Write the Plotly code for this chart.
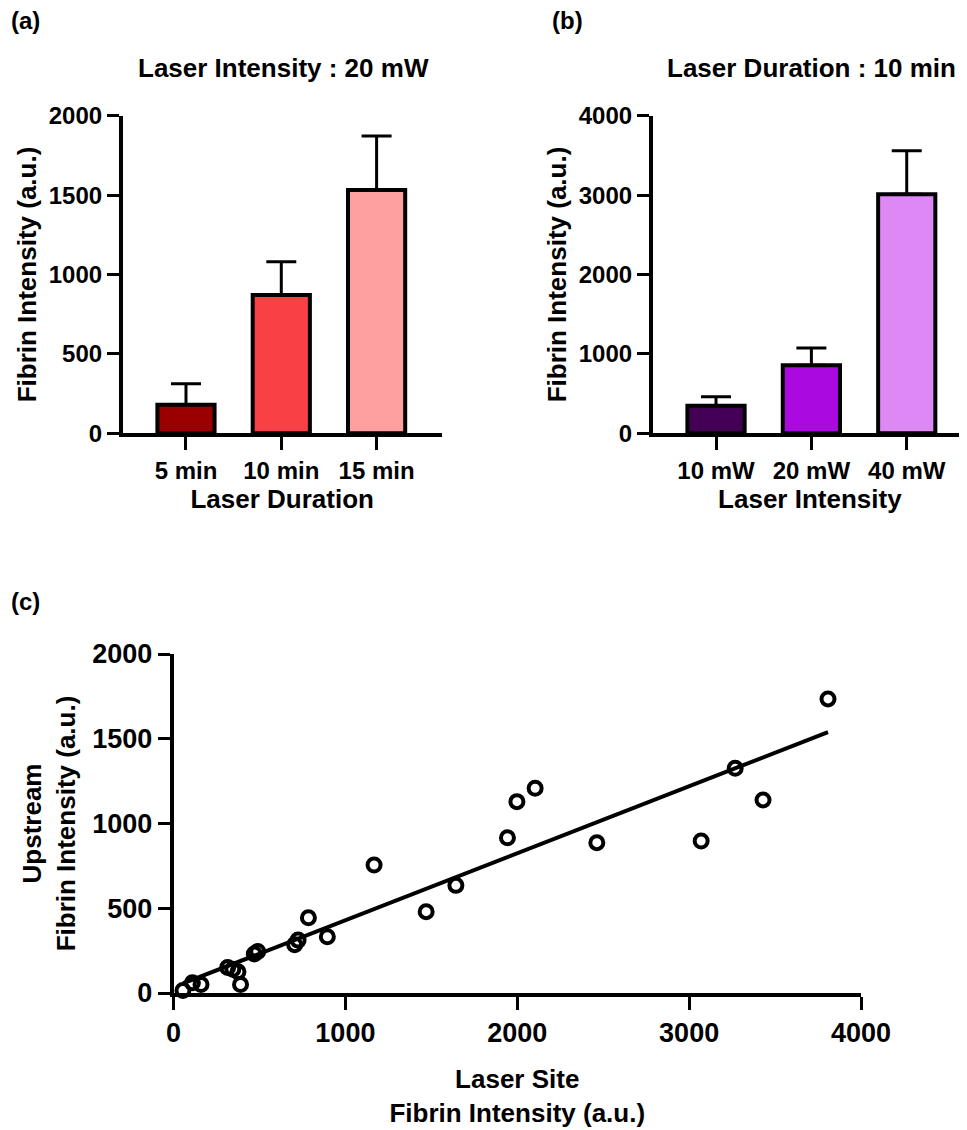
import numpy as np
import plotly.graph_objects as go

# ---------------- data ----------------
duration_labels = ["5 min", "10 min", "15 min"]
duration_mean = [180, 871, 1532]
duration_err = [132, 210, 340]
duration_colors = ["#9B0000", "#F94044", "#FFA0A0"]

intensity_labels = ["10 mW", "20 mW", "40 mW"]
intensity_mean = [348, 856, 3010]
intensity_err = [113, 218, 549]
intensity_colors = ["#440055", "#AA0ADF", "#DD88F5"]

site_fibrin = [55, 110, 160, 315, 345, 375, 390, 470, 490, 705, 725, 785, 895,
               1167, 1470, 1643, 1943, 1998, 2104, 2463, 3070, 3268, 3430, 3808]
upstream_fibrin = [15, 60, 50, 150, 140, 125, 50, 230, 245, 285, 312, 444, 332,
                   755, 480, 635, 916, 1129, 1208, 887, 897, 1326, 1139, 1735]

yticks_a = [0, 500, 1000, 1500, 2000]
yticks_b = [0, 1000, 2000, 3000, 4000]
xticks_c = [0, 1000, 2000, 3000, 4000]
yticks_c = [0, 500, 1000, 1500, 2000]

# ---------------- layout helpers ----------------
# the page body has an 8px margin, so the figure is placed inside it
OFF = 8
W, H = 967 - OFF, 1130 - OFF
FONT = "Liberation Sans, Arial, sans-serif"


def fx(x):
    return (x - OFF) / W


def fy(y):
    return 1 - (y - OFF) / H


def bold(size):
    return dict(family=FONT, size=size, color="black", weight="bold")


fig = go.Figure()

fig.add_trace(go.Bar(
    x=duration_labels, y=duration_mean, width=0.6,
    marker=dict(color=duration_colors, line=dict(color="black", width=4)),
    error_y=dict(type="data", symmetric=False, array=duration_err,
                 arrayminus=[0] * 3, color="black", thickness=3, width=15),
    xaxis="x", yaxis="y", showlegend=False))

fig.add_trace(go.Bar(
    x=intensity_labels, y=intensity_mean, width=0.6,
    marker=dict(color=intensity_colors, line=dict(color="black", width=4)),
    error_y=dict(type="data", symmetric=False, array=intensity_err,
                 arrayminus=[0] * 3, color="black", thickness=3, width=15),
    xaxis="x2", yaxis="y2", showlegend=False))

slope, intercept = np.polyfit(site_fibrin, upstream_fibrin, 1)
fit_x = [min(site_fibrin), max(site_fibrin)]
fit_y = [slope * v + intercept for v in fit_x]

fig.add_trace(go.Scatter(
    x=fit_x, y=fit_y, mode="lines", line=dict(color="black", width=4),
    xaxis="x3", yaxis="y3", showlegend=False, cliponaxis=False))

fig.add_trace(go.Scatter(
    x=site_fibrin, y=upstream_fibrin, mode="markers",
    marker=dict(symbol="circle-open", size=13, color="black",
                line=dict(color="black", width=4)),
    xaxis="x3", yaxis="y3", showlegend=False, cliponaxis=False))

axis_common = dict(showline=True, linecolor="black", linewidth=3.5,
                   ticks="outside", tickcolor="black", tickwidth=3,
                   showgrid=False, zeroline=False, fixedrange=True,
                   automargin=False)

fig.update_layout(
    width=W, height=H, autosize=False,
    margin=dict(l=0, r=0, t=0, b=0, pad=0, autoexpand=False),
    paper_bgcolor="white", plot_bgcolor="white",
    xaxis=dict(domain=[fx(122.7), fx(441.7)], anchor="y",
               range=[-0.664, 2.683], ticklen=13, tickfont=bold(24),
               title=dict(text="Laser Duration", font=bold(26), standoff=6),
               **axis_common),
    yaxis=dict(domain=[fy(433.3), fy(115.7)], anchor="x",
               range=[0, 2000], tickvals=yticks_a, ticklen=12,
               tickfont=bold(24),
               title=dict(text="Fibrin Intensity (a.u.)", font=bold(26), standoff=6),
               **axis_common),
    xaxis2=dict(domain=[fx(652.7), fx(967)], anchor="y2",
                range=[-0.664, 2.632], ticklen=13, tickfont=bold(24),
                title=dict(text="Laser Intensity", font=bold(26), standoff=6),
                **axis_common),
    yaxis2=dict(domain=[fy(433.3), fy(115.7)], anchor="x2",
                range=[0, 4000], tickvals=yticks_b, ticklen=12,
                tickfont=bold(24),
                title=dict(text="Fibrin Intensity (a.u.)", font=bold(26), standoff=6),
                **axis_common),
    xaxis3=dict(domain=[fx(173.5), fx(861)], anchor="y3",
                range=[0, 4000], tickvals=xticks_c, ticklen=13,
                tickfont=bold(27),
                title=dict(text="Laser Site<br>Fibrin Intensity (a.u.)",
                           font=bold(26), standoff=24),
                **axis_common),
    yaxis3=dict(domain=[fy(993), fy(654)], anchor="x3",
                range=[0, 2000], tickvals=yticks_c, ticklen=12,
                tickfont=bold(27),
                title=dict(text="Upstream<br>Fibrin Intensity (a.u.)",
                           font=bold(26), standoff=10),
                **axis_common),
)


def note(text, x, y, size=26):
    fig.add_annotation(text=text, x=fx(x), y=fy(y), xref="paper", yref="paper",
                       xanchor="center", yanchor="middle", showarrow=False,
                       font=bold(size))


note("(a)", 25, 20, size=24)
note("(b)", 567, 20, size=24)
note("(c)", 25, 601, size=24)
note("Laser Intensity : 20 mW", 283, 68)
note("Laser Duration : 10 min", 811, 68)

fig.write_html("out.html")
